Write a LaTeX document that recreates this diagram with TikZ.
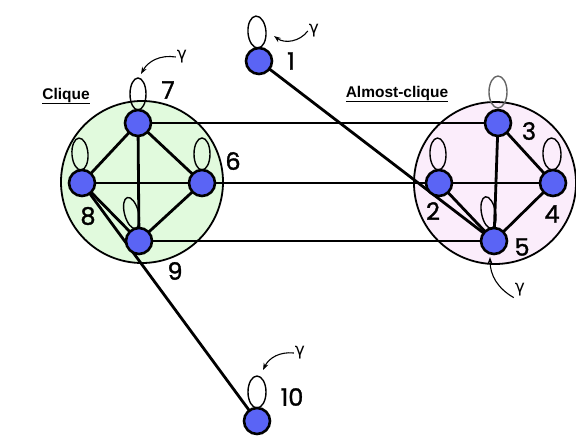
\documentclass[tikz,border=0pt]{standalone}
\usepackage{fontspec}
\setmainfont{Poppins}
\newfontfamily\numfont{Poppins}[FakeBold=1.3]
\newfontfamily\greekfont{DejaVu Sans}
\newfontfamily\titlefont{Liberation Sans}
\usetikzlibrary{positioning, calc, arrows.meta}

\definecolor{vblue}{RGB}{90,100,245}
\definecolor{cliquegreen}{RGB}{225,250,221}
\definecolor{almostpink}{RGB}{251,237,251}

\pgfdeclarelayer{back}
\pgfdeclarelayer{links}
\pgfsetlayers{back,links,main}

\begin{document}
\begin{tikzpicture}[x=1pt, y=-1pt,
    vertex/.style={circle, draw, fill=vblue, line width=2.6pt, minimum size=26pt, inner sep=0pt},
    group/.style={circle, draw, line width=1.8pt, minimum size=162pt, inner sep=0pt},
    edge/.style={line width=2.8pt},
    selfloop/.style={line width=1.4pt},
    num/.style={font=\numfont\fontsize{24}{24}\selectfont, inner sep=0pt},
    gam/.style={font=\greekfont\fontsize{17}{17}\selectfont, inner sep=1pt},
    grp/.style={font=\titlefont\bfseries\fontsize{15.5}{15.5}\selectfont, inner sep=0pt},
    hint/.style={-{Stealth[length=7pt, width=5pt]}, line width=1.1pt}]
    \useasboundingbox (0,0) rectangle (576,443);

    % the two groups
    \begin{pgfonlayer}{back}
        \node[group, fill=cliquegreen] (clique) at (142,182) {};
        \node[group, fill=almostpink] (almost) at (495,183) {};
    \end{pgfonlayer}
    \node[grp] (cliquelbl) at (66,96) {\underline{Clique}};
    \node[grp] (almostlbl) at (397,94) {\underline{Almost-clique}};

    % vertices
    \foreach \n/\x/\y in {1/259/61, 2/439/183, 3/498/123, 4/553/183, 5/494/241,
                          6/202/183, 7/138/123, 8/82/183, 9/139/241, 10/257/421}
        \node[vertex] (n\n) at (\x,\y) {};

    % vertex numbers
    \foreach \n/\x/\y in {1/291/61, 2/433/211, 3/529/131, 4/552/214, 5/522/247,
                          6/233/161, 7/168/90, 8/88/216, 9/175/271, 10/292/397}
        \node[num] (l\n) at (\x,\y) {\n};

    \begin{pgfonlayer}{links}
        % edges
        \foreach \a/\b in {7/8, 7/6, 7/9, 8/6, 8/9, 6/9, % clique
                           3/5, 3/4, 2/4, 2/5, 4/5,      % almost-clique
                           7/3, 6/2, 9/5, 1/5, 8/10}     % between
            \draw[edge] (n\a.center) -- (n\b.center);
        % self-loops
        \foreach \n/\r/\w in {1/4/9, 2/2/8, 4/2/9, 5/11/7, 6/0/8, 7/0/8, 8/4/8, 9/15/7, 10/0/9}
            \draw[selfloop, shift={(n\n.center)}, rotate=\r] (0,-29) ellipse [x radius=\w pt, y radius=16pt];
        \draw[selfloop, black!60, shift={(n3.center)}] (0,-31) ellipse [x radius=9pt, y radius=16pt];
    \end{pgfonlayer}

    % gamma hints
    \node[gam] (g1) at (314,31) {γ};
    \node[gam] (g7) at (182,57) {γ};
    \node[gam] (g5) at (520,290) {γ};
    \node[gam] (g10) at (300,353) {γ};
    \coordinate (t1) at (274,36);
    \coordinate (t7) at (141,74);
    \coordinate (t5) at (490,257);
    \coordinate (t10) at (263,370);
    \draw[hint] (g1.west) to[bend left=45] (t1);
    \draw[hint] (g7.west) to[bend right=35] (t7);
    \draw[hint] (g5.south west) to[bend left=30] (t5);
    \draw[hint] (g10.west) to[bend right=35] (t10);
\end{tikzpicture}
\end{document}
